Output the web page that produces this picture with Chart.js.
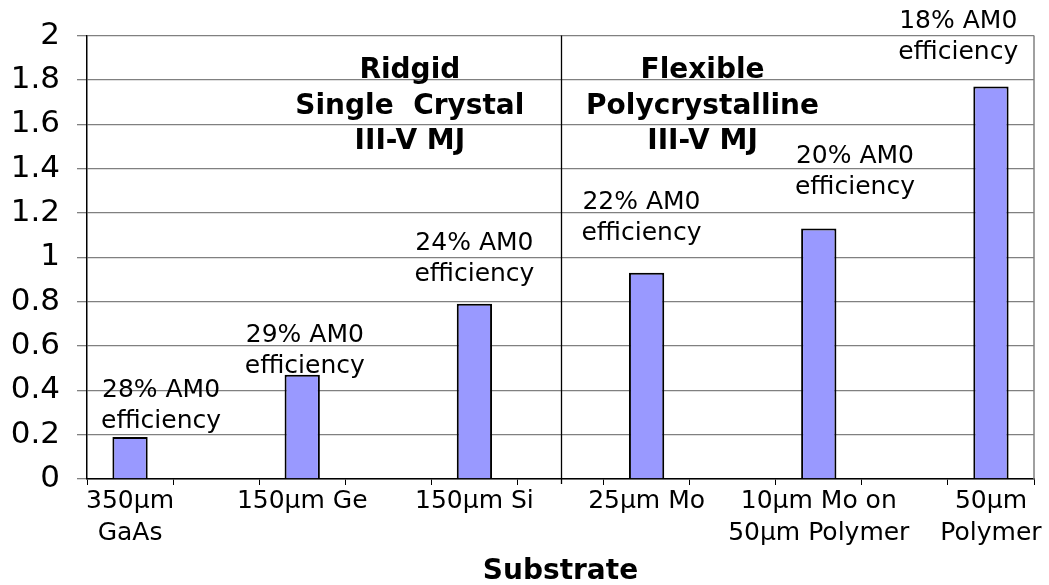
<!DOCTYPE html>
<html>
<head>
<meta charset="utf-8">
<script src="https://cdn.jsdelivr.net/npm/chart.js@4"></script>
<style>
  html, body { margin: 0; padding: 0; background: #ffffff; }
  #wrap { width: 1049px; height: 585px; position: relative; }
</style>
</head>
<body>
<div id="wrap"><canvas id="c" width="1049" height="585"></canvas></div>
<script>
// ---- data ----
const categories = [
  ['350µm', 'GaAs'], '', '150µm Ge', '', '150µm Si', '',
  '25µm Mo', '', ['10µm Mo on', '50µm Polymer'], '', ['50µm', 'Polymer']
];
const values = [0.19, null, 0.47, null, 0.79, null, 0.93, null, 1.13, null, 1.77];
const efficiencyLabels = ['28% AM0', '29% AM0', '24% AM0', '22% AM0', '20% AM0', '18% AM0'];
const efficiencyLine2 = 'efficiency';
const efficiencyBarIndex = [0, 2, 4, 6, 8, 10];
const groupLeft = ['Ridgid', 'Single  Crystal', 'III-V MJ'];
const groupRight = ['Flexible', 'Polycrystalline', 'III-V MJ'];
const axisTitle = 'Substrate';
const yMin = 0, yMax = 2, yStep = 0.2;
const dividerCategory = 5;

// ---- text placement (in axis units) ----
const effOffsetX = [0.36, 0.03, 0.0, -0.06, 0.42, -0.38];
const effBaseY = [0.369, 0.620, 1.034, 1.218, 1.425, 2.036];
const groupCenterX = [3.25, 6.65];
const groupBaseY = 1.807;

const FONT = "'DejaVu Sans', Verdana, sans-serif";

const overlay = {
  id: 'overlay',
  afterDatasetsDraw(chart) {
    const { ctx, chartArea: a, scales: { x, y } } = chart;
    ctx.save();
    // right border
    ctx.strokeStyle = '#808080';
    ctx.lineWidth = 1.5;
    ctx.beginPath();
    ctx.moveTo(a.right, a.top);
    ctx.lineTo(a.right, a.bottom);
    ctx.stroke();
    // divider
    const dx = Math.round(x.getPixelForValue(dividerCategory)) + 0.5;
    ctx.strokeStyle = '#000';
    ctx.lineWidth = 1.3;
    ctx.beginPath();
    ctx.moveTo(dx, a.top);
    ctx.lineTo(dx, a.bottom + 5);
    ctx.stroke();
    // efficiency labels
    ctx.fillStyle = '#000';
    ctx.font = '25px ' + FONT;
    ctx.textAlign = 'center';
    ctx.textBaseline = 'alphabetic';
    efficiencyLabels.forEach((t, i) => {
      const px = x.getPixelForValue(efficiencyBarIndex[i] + effOffsetX[i]);
      const py = y.getPixelForValue(effBaseY[i]);
      ctx.fillText(t, px, py);
      ctx.fillText(efficiencyLine2, px, py + 31);
    });
    // group labels
    ctx.font = 'bold 28px ' + FONT;
    [groupLeft, groupRight].forEach((lines, g) => {
      const px = x.getPixelForValue(groupCenterX[g]);
      const py = y.getPixelForValue(groupBaseY);
      lines.forEach((t, k) => ctx.fillText(t, px, py + k * 35.5));
    });
    ctx.restore();
  }
};

new Chart(document.getElementById('c'), {
  type: 'bar',
  data: {
    labels: categories,
    datasets: [{
      data: values,
      backgroundColor: '#9999ff',
      borderColor: '#000000',
      borderWidth: 2,
      barPercentage: 0.41,
      categoryPercentage: 1.0
    }]
  },
  options: {
    responsive: false,
    animation: false,
    layout: { padding: { left: 0, right: 15, top: 34, bottom: 0 } },
    plugins: { legend: { display: false }, tooltip: { enabled: false } },
    scales: {
      x: {
        offset: true,
        grid: { offset: true, drawOnChartArea: false, color: '#000', tickLength: 6, tickWidth: 1 },
        border: { color: '#000', width: 1.5 },
        ticks: {
          autoSkip: false, maxRotation: 0, color: '#000', padding: 0,
          font: { family: FONT, size: 25, lineHeight: 1.3 }
        },
        title: {
          display: true, text: axisTitle, color: '#000',
          font: { family: FONT, size: 28, weight: 'bold' },
          padding: { top: 0, bottom: -4 }
        },
        afterFit(s) { s.height = 106; }
      },
      y: {
        min: yMin, max: yMax,
        grid: { color: '#808080', lineWidth: 1.3, tickLength: 10 },
        border: { color: '#000', width: 1.5 },
        ticks: {
          stepSize: yStep, color: '#000', padding: 17,
          font: { family: FONT, size: 31 },
          callback: (v) => String(parseFloat(Number(v).toFixed(1)))
        },
        afterFit(s) { s.width = 87; }
      }
    }
  },
  plugins: [overlay]
});
</script>
</body>
</html>
